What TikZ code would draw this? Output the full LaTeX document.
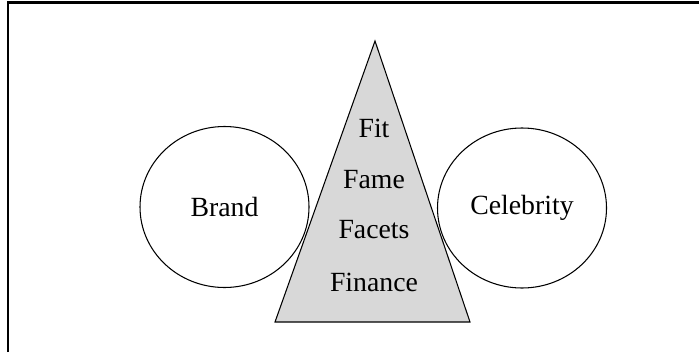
\documentclass[tikz,border=0pt]{standalone}
\usepackage{fontspec}
\setmainfont{Liberation Serif}
\usetikzlibrary{shapes.geometric}

\definecolor{wedgegray}{RGB}{216,216,216}

\tikzset{
	party/.style={ellipse, draw, line width=0.6pt, minimum width=3.38cm, minimum height=3.22cm},
	factor/.style={inner sep=0pt, font=\fontsize{15.8}{19}\selectfont}
}

\begin{document}
\begin{tikzpicture}[font=\fontsize{15.8}{19}\selectfont]
			\useasboundingbox (0,0) rectangle (13.98,7.04);
			
			% Frame (top and left edge only)
			\coordinate (fbot) at (0.16,0);
			\coordinate (fcorner) at (0.16,6.99);
			\coordinate (fright) at (13.98,6.99);
			\draw[line width=1.4pt] (fbot) -- (fcorner) -- (fright);
			
			% The two parties
			\node[party] (brand) at (4.49,2.9) {Brand};
			\node[party, minimum height=3.2cm] (celebrity) at (10.44,2.88) {Celebrity};
			
			% Triangle between them
			\coordinate (apex) at (7.5,6.22);
			\coordinate (baseL) at (5.5,0.6);
			\coordinate (baseR) at (9.4,0.6);
			\filldraw[line width=0.6pt, fill=wedgegray] (apex) -- (baseR) -- (baseL) -- cycle;
			
			% The four factors
			\node[factor] (fit) at (7.48,4.48) {Fit};
			\node[factor] (fame) at (7.48,3.44) {Fame};
			\node[factor] (facets) at (7.48,2.44) {Facets};
			\node[factor] (finance) at (7.48,1.40) {Finance};
			
		\end{tikzpicture}
\end{document}
